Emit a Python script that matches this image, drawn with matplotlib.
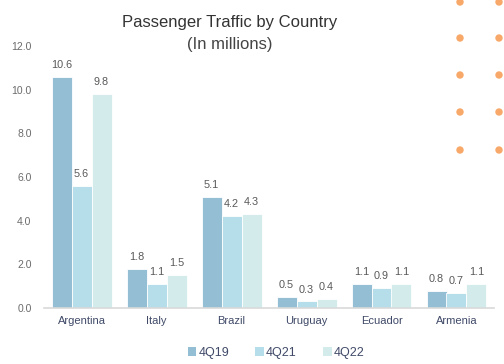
import matplotlib
matplotlib.use("Agg")
import matplotlib.pyplot as plt
from matplotlib.patches import Ellipse, Patch
import numpy as np

plt.rcParams['font.family'] = ['Liberation Sans', 'DejaVu Sans']

countries = ["Argentina", "Italy", "Brazil", "Uruguay", "Ecuador", "Armenia"]
series_names = ["4Q19", "4Q21", "4Q22"]
q19 = [10.6, 1.8, 5.1, 0.5, 1.1, 0.8]
q21 = [5.6, 1.1, 4.2, 0.3, 0.9, 0.7]
q22 = [9.8, 1.5, 4.3, 0.4, 1.1, 1.1]
yticks = [0.0, 2.0, 4.0, 6.0, 8.0, 10.0, 12.0]

colors = ["#93BED3", "#B6DEEA", "#D3ECEB"]

W, H = 504, 364
fig = plt.figure(figsize=(W / 100, H / 100), dpi=100)
ax = fig.add_axes([44 / W, 56 / H, 450 / W, 262 / H])

x = np.arange(len(countries))
bw = 0.8 / 3
for i, (vals, c, name) in enumerate(zip([q19, q21, q22], colors, series_names)):
    pos = x + (i - 1) * bw
    ax.bar(pos, vals, width=bw, color=c, edgecolor="white", linewidth=0.6, label=name)
    for xp, v in zip(pos, vals):
        ax.annotate(f"{v:.1f}", (xp, v), xytext=(0, 5), textcoords="offset points",
                    ha="center", va="bottom", fontsize=7.8, color="#595959")

ax.set_xlim(-0.5, len(countries) - 0.5)
ax.set_ylim(0, 12)
ax.set_yticks(yticks)
ax.set_yticklabels([f"{t:.1f}" for t in yticks], fontsize=7.5, color="#6b6b6b")
ax.set_xticks(x)
ax.set_xticklabels(countries, fontsize=8, color="#404a68")
ax.tick_params(axis="both", length=0)
ax.tick_params(axis="y", pad=9)
ax.tick_params(axis="x", pad=6)
for s in ["top", "right", "left"]:
    ax.spines[s].set_visible(False)
ax.spines["bottom"].set_color("#d9d9d9")
ax.spines["bottom"].set_linewidth(1.2)

fig.text(230 / W, 1 - 23 / H, "Passenger Traffic by Country", ha="center", va="center",
         fontsize=12, color="#333333")
fig.text(230 / W, 1 - 45 / H, "(In millions)", ha="center", va="center",
         fontsize=12, color="#444444")

handles = [Patch(facecolor=c, edgecolor="none") for c in colors]
fig.legend(handles, series_names, loc="center", bbox_to_anchor=(276 / W, 1 - 353 / H),
           ncol=3, frameon=False, fontsize=9, handlelength=0.7, handleheight=0.7,
           handletextpad=0.15, columnspacing=2.1, labelcolor="#404a68")

# decorative dots
for dx in [460, 499]:
    for dy in [2, 38, 75, 112, 150]:
        fig.add_artist(Ellipse((dx / W, 1 - dy / H), 6 / W, 6 / H, color="#F8A868",
                               transform=fig.transFigure))

fig.savefig("out.png", dpi=100)
